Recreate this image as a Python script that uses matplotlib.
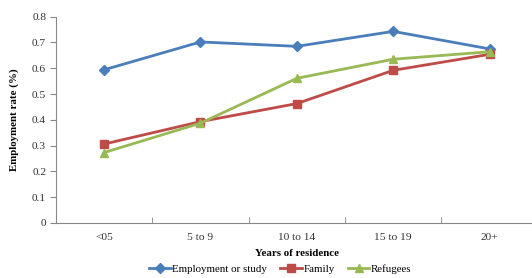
import matplotlib
matplotlib.use("Agg")
import matplotlib.pyplot as plt
import numpy as np

categories = ["<05", "5 to 9", "10 to 14", "15 to 19", "20+"]
employment = [0.594, 0.702, 0.685, 0.743, 0.675]
family = [0.306, 0.393, 0.463, 0.592, 0.654]
refugees = [0.273, 0.387, 0.561, 0.635, 0.664]

plt.rcParams['font.family'] = ['Liberation Serif', 'DejaVu Serif']

fig = plt.figure(figsize=(5.32, 2.78), dpi=100)
ax = fig.add_axes([0.105, 0.198, 0.906, 0.742])

x = np.arange(len(categories))
ax.plot(x, employment, color='#4a7ebb', lw=2, marker='D', ms=5, label='Employment or study')
ax.plot(x, family, color='#be4b48', lw=2, marker='s', ms=6, label='Family')
ax.plot(x, refugees, color='#98b954', lw=2, marker='^', ms=6, label='Refugees')

ax.set_xlim(-0.5, len(categories) - 0.5)
ax.set_ylim(0, 0.8)
ax.set_yticks(np.arange(0, 0.81, 0.1))
ax.set_yticklabels(['0'] + ['%.1f' % v for v in np.arange(0.1, 0.81, 0.1)])
ax.set_xticks(x)
ax.set_xticklabels(categories)
ax.set_xticks(np.arange(0.5, len(categories) - 0.5, 1), minor=True)
ax.tick_params(axis='x', which='major', length=0, pad=7)
ax.tick_params(axis='x', which='minor', direction='in', length=4, color='#888888')
ax.tick_params(axis='y', length=4, color='#888888', pad=3)
ax.tick_params(labelsize=8.2, labelcolor='#333333')

for s in ['top', 'right']:
    ax.spines[s].set_visible(False)
for s in ['left', 'bottom']:
    ax.spines[s].set_color('#888888')

ax.set_ylabel('Employment rate (%)', fontsize=7.8, fontweight='bold', labelpad=9)
ax.set_xlabel('Years of residence', fontsize=7.8, fontweight='bold', labelpad=5)

fig.legend(loc='center', bbox_to_anchor=(0.527, 0.033), ncol=3, frameon=False,
           fontsize=7.8, handlelength=2.0, columnspacing=1.2, handletextpad=0.15)

fig.savefig("out.png", dpi=100)
